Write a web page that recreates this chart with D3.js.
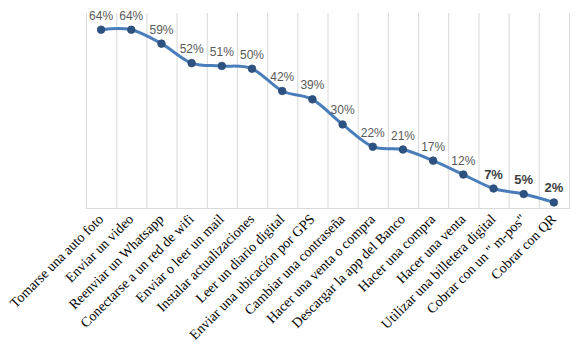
<!DOCTYPE html>
<html><head><meta charset="utf-8">
<script src="https://cdn.jsdelivr.net/npm/d3@7"></script>
<style>body{margin:0;background:#fff}svg{display:block}</style>
</head><body><svg id="c" width="576" height="355"></svg>
<script>
const categories = ["Tomarse una auto foto","Enviar un video","Reenviar un Whatsapp","Conectarse a un red de wifi","Enviar o leer un mail","Instalar actualizaciones","Leer un diario digital","Enviar una ubicación por GPS","Cambiar una contraseña","Hacer una venta o compra","Descargar la app del Banco","Hacer una compra","Hacer una venta","Utilizar una billetera digital","Cobrar con un \" m-pos\"","Cobrar con QR"];
const values = [0.64,0.64,0.59,0.52,0.51,0.50,0.42,0.39,0.30,0.22,0.21,0.17,0.12,0.07,0.05,0.02];
const labels = ["64%","64%","59%","52%","51%","50%","42%","39%","30%","22%","21%","17%","12%","7%","5%","2%"];
const boldLabels = [false,false,false,false,false,false,false,false,false,false,false,false,false,true,true,true];

const svg = d3.select("#c");
const x = d3.scaleBand().domain(categories).range([86, 569]).padding(0);
const y = d3.scaleLinear().domain([0, 0.7]).range([208, 13]);

const bounds = categories.map(c => x(c)).concat([x.range()[1]]);
svg.append("g").selectAll("line").data(bounds).join("line")
  .attr("x1", d => d + 0.5).attr("x2", d => d + 0.5)
  .attr("y1", y.range()[1]).attr("y2", y.range()[0])
  .attr("stroke", "#d9d9d9").attr("stroke-width", 1);
svg.append("line").attr("x1", x.range()[0]).attr("x2", x.range()[1] + 1)
  .attr("y1", y(0) + 0.5).attr("y2", y(0) + 0.5)
  .attr("stroke", "#d9d9d9").attr("stroke-width", 1);

const cx = c => x(c) + x.bandwidth() / 2;
const line = d3.line().x((d, i) => cx(categories[i])).y(d => y(d)).curve(d3.curveCatmullRom.alpha(0));
svg.append("path").datum(values).attr("d", line).attr("fill", "none")
  .attr("stroke", "#4a7ebb").attr("stroke-width", 3).attr("stroke-linecap", "round");

svg.append("g").selectAll("circle").data(values).join("circle")
  .attr("cx", (d, i) => cx(categories[i])).attr("cy", d => y(d)).attr("r", 3.8)
  .attr("fill", "#2c5282").attr("stroke", "#2c4d75").attr("stroke-width", 0.8);

svg.append("g").selectAll("text").data(values).join("text")
  .attr("x", (d, i) => cx(categories[i])).attr("y", d => y(d) - 10)
  .attr("text-anchor", "middle")
  .attr("font-family", "Liberation Sans, Arial, sans-serif")
  .attr("font-size", (d, i) => boldLabels[i] ? 13 : 12)
  .attr("font-weight", (d, i) => boldLabels[i] ? "bold" : "normal")
  .attr("fill", (d, i) => boldLabels[i] ? "#404040" : "#595959")
  .text((d, i) => labels[i]);

svg.append("g").selectAll("text").data(categories).join("text")
  .attr("transform", c => `translate(${cx(c) + 3},${220}) rotate(-45)`)
  .attr("text-anchor", "end")
  .attr("font-family", "Liberation Serif, Times New Roman, serif")
  .attr("font-size", 14)
  .attr("fill", "#000")
  .text(c => c);
</script></body></html>
